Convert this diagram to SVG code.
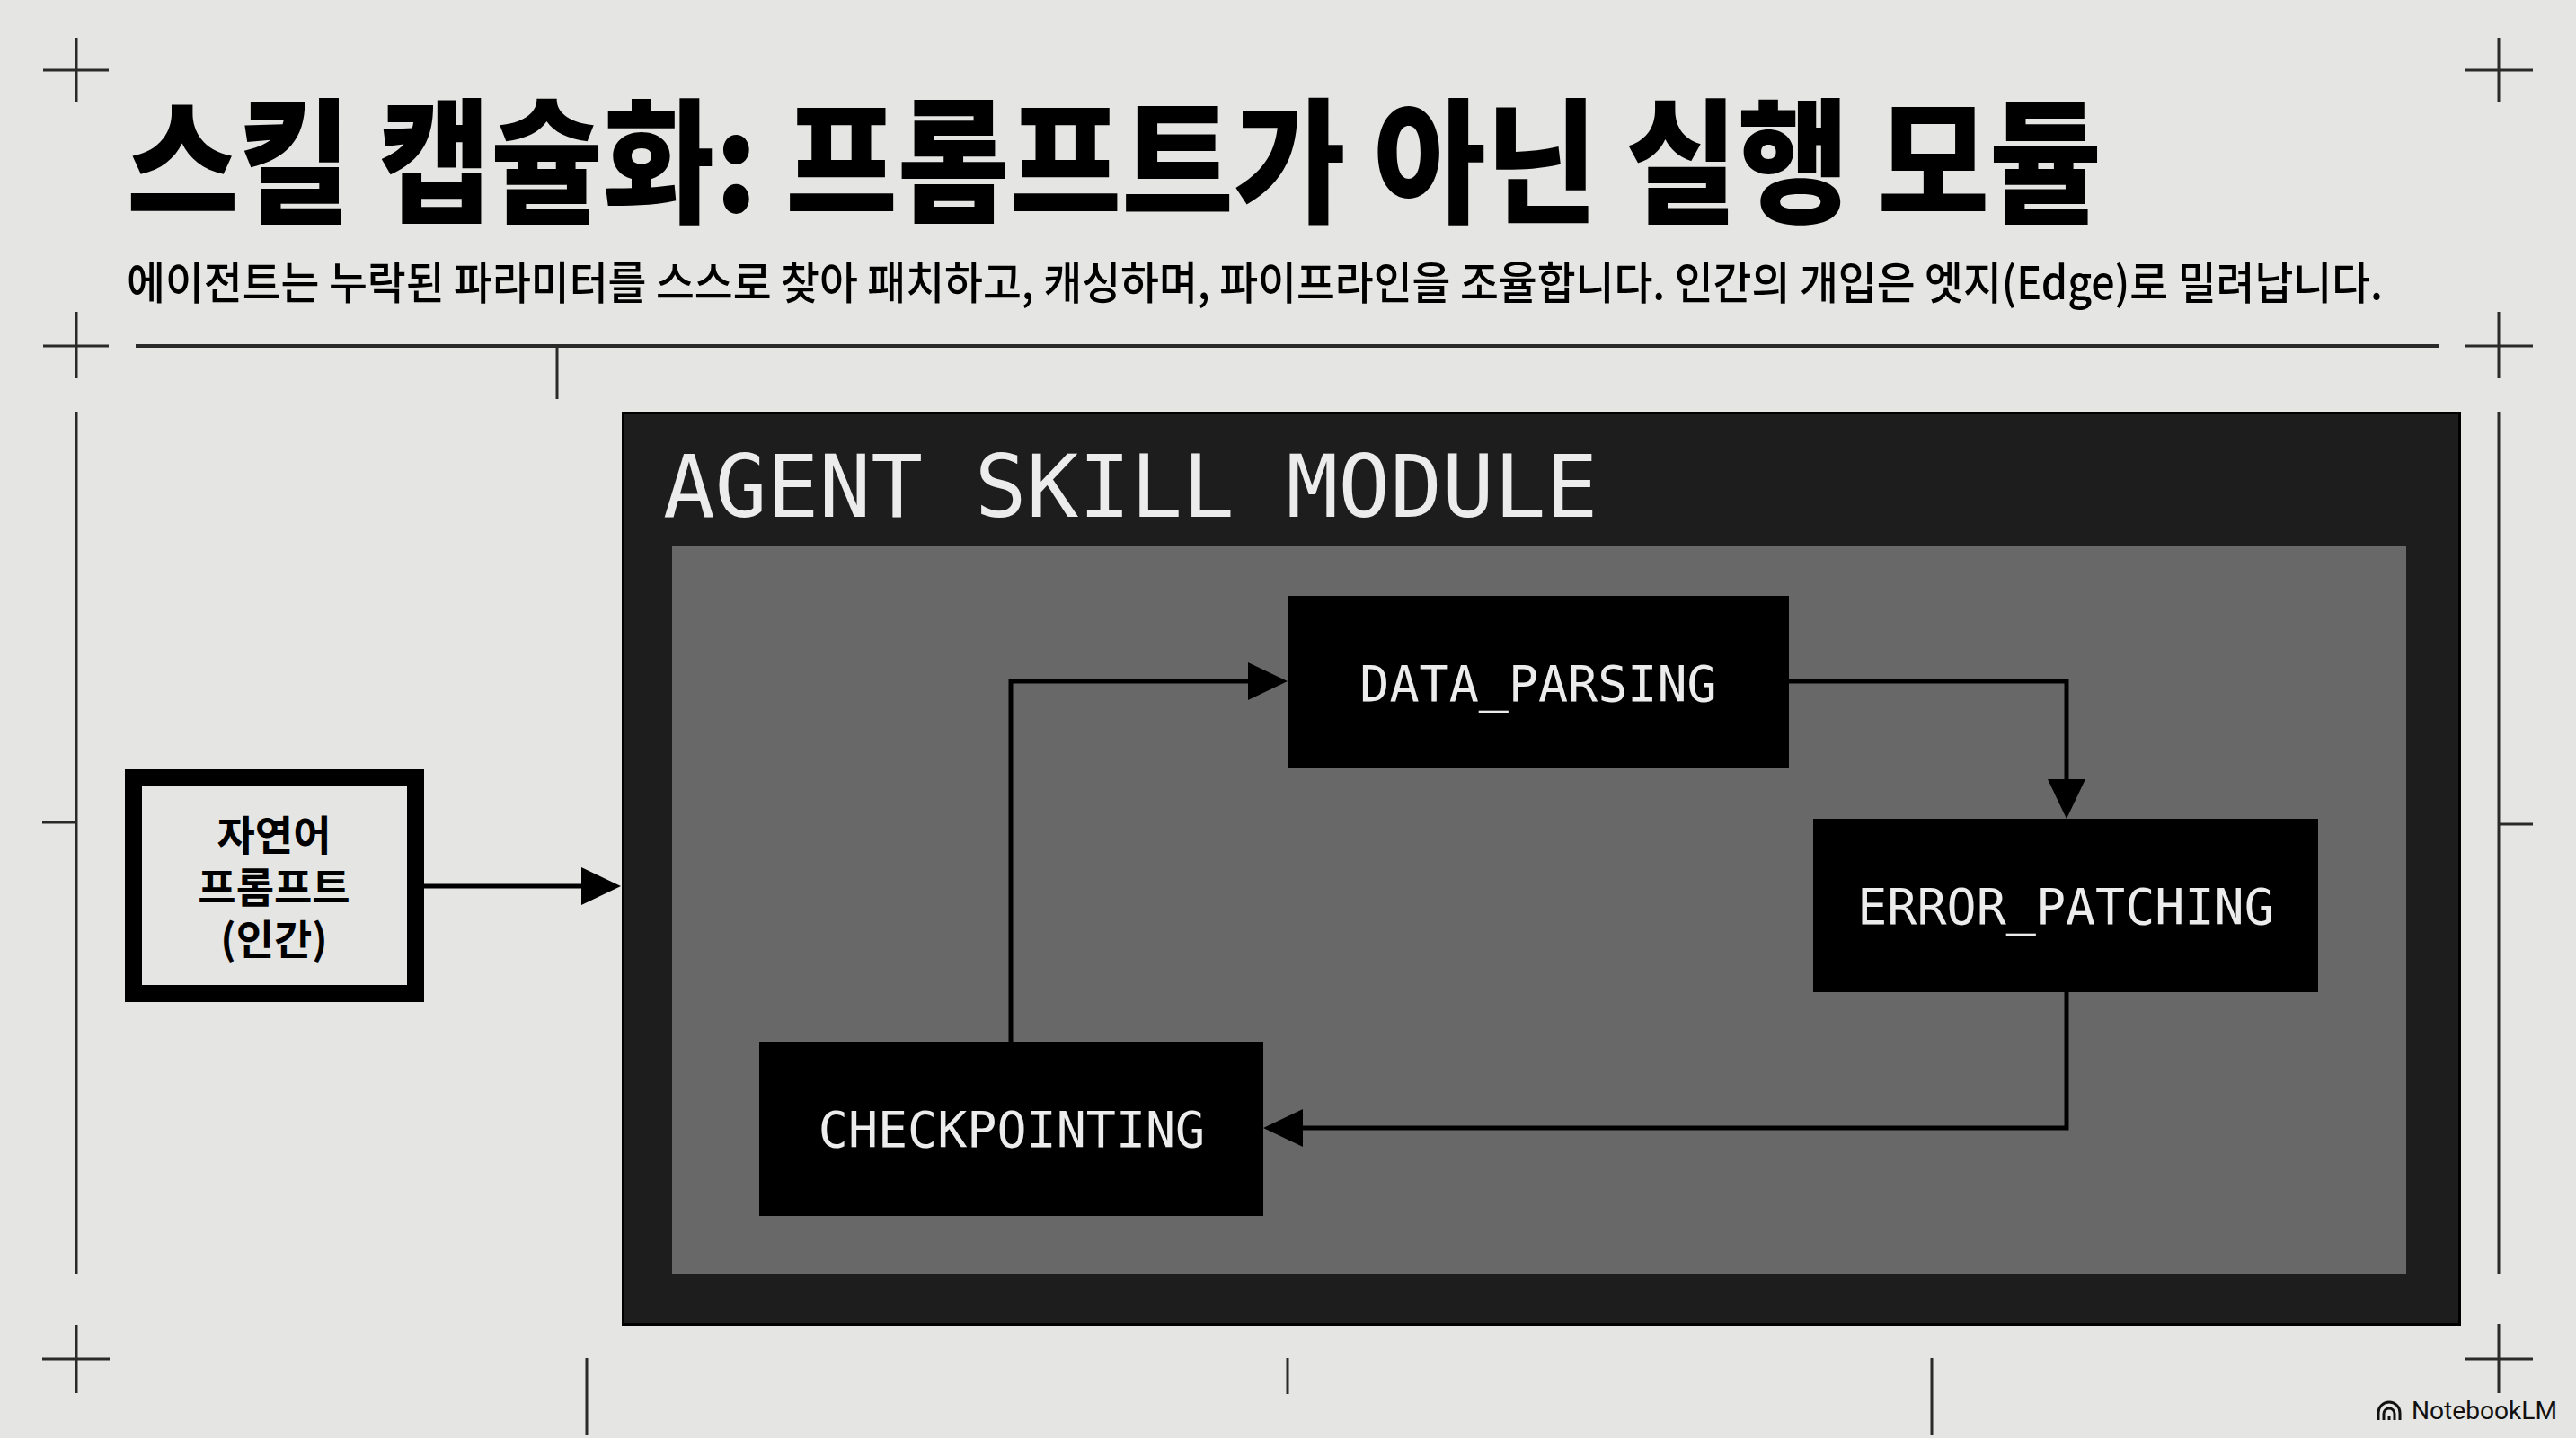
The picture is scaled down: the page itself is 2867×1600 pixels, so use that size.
<svg xmlns="http://www.w3.org/2000/svg" width="2867" height="1600" viewBox="0 0 2867 1600">
<defs>
<style>
.guide{stroke:#2a2a2a;stroke-width:3;fill:none}
.conn{stroke:#000;stroke-width:5;fill:none}
.node{fill:#000}
.mono{font-family:"DejaVu Sans Mono","Liberation Mono",monospace;fill:#ececec}
.kr{font-family:"Noto Sans CJK KR","Noto Sans",sans-serif;fill:#000}
</style>
<marker id="arr" markerUnits="userSpaceOnUse" markerWidth="44" markerHeight="42" refX="0" refY="21" orient="auto" overflow="visible">
<path d="M0,0 L44,21 L0,42 Z" fill="#000"/>
</marker>
</defs>
<rect width="2867" height="1600" fill="#e5e5e3"/>

<g id="guides">
<path class="guide" d="M48,78 H121 M85,42 V114"/>
<path class="guide" d="M2744,78 H2819 M2781,42 V114"/>
<path class="guide" d="M48,385 H121 M85,347 V421"/>
<path class="guide" d="M2744,385 H2819 M2781,347 V421"/>
<path class="guide" d="M85,458 V1417 M47,915 H85"/>
<path class="guide" d="M2781,458 V1418 M2781,917 H2819"/>
<path class="guide" d="M47,1512 H122 M85,1474 V1550"/>
<path class="guide" d="M2744,1512 H2819 M2781,1473 V1550"/>
<path class="guide" d="M653,1511 V1597 M1433,1511 V1551 M2150,1511 V1597"/>
<path d="M151,385 H2714" stroke="#2a2a2a" stroke-width="4"/>
<path class="guide" d="M620,385 V444"/>
</g>

<g id="title">
<text class="kr" x="141" y="236" font-size="150" font-weight="900" textLength="2198" lengthAdjust="spacingAndGlyphs">스킬 캡슐화: 프롬프트가 아닌 실행 모듈</text>
<text class="kr" x="141" y="333" font-size="50" font-weight="500" textLength="2511" lengthAdjust="spacingAndGlyphs">에이전트는 누락된 파라미터를 스스로 찾아 패치하고, 캐싱하며, 파이프라인을 조율합니다. 인간의 개입은 엣지(Edge)로 밀려납니다.</text>
</g>

<g id="prompt">
<rect x="148.5" y="865.5" width="314" height="240" fill="#e5e5e3" stroke="#000" stroke-width="19"/>
<text class="kr" x="305" y="946" font-size="46" font-weight="700" text-anchor="middle">자연어</text>
<text class="kr" x="305" y="1004" font-size="46" font-weight="700" text-anchor="middle">프롬프트</text>
<text class="kr" x="305" y="1062" font-size="46" font-weight="700" text-anchor="middle">(인간)</text>
</g>

<g id="module">
<rect x="693.5" y="459.5" width="2044" height="1014" fill="#1d1d1d" stroke="#000" stroke-width="3"/>
<text class="mono" x="738" y="575" font-size="96">AGENT SKILL MODULE</text>
<rect x="748" y="607" width="1930" height="810" fill="#686868"/>
</g>

<g id="data_parsing">
<rect class="node" x="1433" y="663" width="558" height="192"/>
<text class="mono" x="1712" y="780" font-size="55" text-anchor="middle">DATA_PARSING</text>
</g>

<g id="error_patching">
<rect class="node" x="2018" y="911" width="562" height="193"/>
<text class="mono" x="2299" y="1028" font-size="55" text-anchor="middle">ERROR_PATCHING</text>
</g>

<g id="checkpointing">
<rect class="node" x="845" y="1159" width="561" height="194"/>
<text class="mono" x="1126" y="1276" font-size="55" text-anchor="middle">CHECKPOINTING</text>
</g>

<g id="connectors">
<path class="conn" d="M472,986 H647" marker-end="url(#arr)"/>
<path class="conn" d="M1125,1159 V758 H1389" marker-end="url(#arr)"/>
<path class="conn" d="M1991,758 H2300 V867" marker-end="url(#arr)"/>
<path class="conn" d="M2300,1104 V1255 H1450" marker-end="url(#arr)"/>
</g>

<g id="brand">
<path d="M2647,1580 V1572 A12,12 0 0 1 2671,1572 V1580 M2653,1580 V1573 A6,6 0 0 1 2665,1573 V1580 M2659,1580 V1575" stroke="#111" stroke-width="3" fill="none"/>
<text x="2684" y="1579" font-family="Roboto,'Liberation Sans',sans-serif" font-size="27" fill="#111" textLength="162" lengthAdjust="spacingAndGlyphs">NotebookLM</text>
</g>
</svg>
